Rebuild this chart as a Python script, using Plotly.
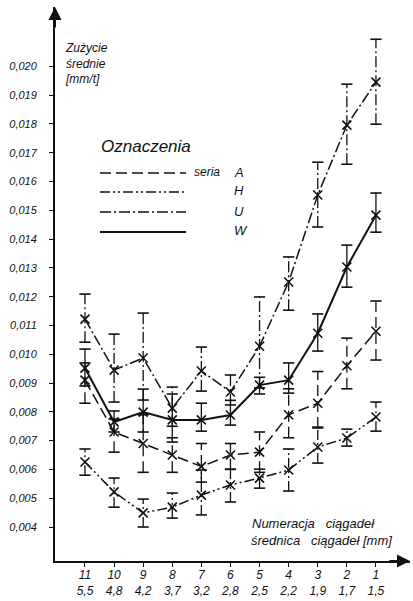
import plotly.graph_objects as go

# ---------------- data ----------------
die_no = ["11", "10", "9", "8", "7", "6", "5", "4", "3", "2", "1"]
diam = ["5,5", "4,8", "4,2", "3,7", "3,2", "2,8", "2,5", "2,2", "1,9", "1,7", "1,5"]

A_mean = [0.0091, 0.0073, 0.0069, 0.0065, 0.0061, 0.0065, 0.0066, 0.0079, 0.0083, 0.0096, 0.0108]
A_hi = [0.0097, 0.00775, 0.0079, 0.0071, 0.0069, 0.0069, 0.0073, 0.0088, 0.0094, 0.01056, 0.01185]
A_lo = [0.0083, 0.0066, 0.0059, 0.0059, 0.00556, 0.0060, 0.0059, 0.0071, 0.00744, 0.0088, 0.0098]

H_mean = [0.00626, 0.00522, 0.00449, 0.00469, 0.00511, 0.00546, 0.0057, 0.00598, 0.00678, 0.00709, 0.00782]
H_hi = [0.00671, 0.0057, 0.00497, 0.00518, 0.00598, 0.00601, 0.00601, 0.00671, 0.00747, 0.0074, 0.00834]
H_lo = [0.0058, 0.00469, 0.0040, 0.00431, 0.00442, 0.00487, 0.00535, 0.00525, 0.00622, 0.00681, 0.00733]

U_mean = [0.01122, 0.00945, 0.00987, 0.00813, 0.00942, 0.00869, 0.01028, 0.01251, 0.01553, 0.01796, 0.01945]
U_hi = [0.01209, 0.0107, 0.01143, 0.00886, 0.01025, 0.00928, 0.01199, 0.01338, 0.01667, 0.01938, 0.02094]
U_lo = [0.01042, 0.00834, 0.00841, 0.0075, 0.00872, 0.00824, 0.00883, 0.01153, 0.01442, 0.0166, 0.01799]

W_mean = [0.00952, 0.00765, 0.00799, 0.00772, 0.00772, 0.00789, 0.00893, 0.0091, 0.01073, 0.01303, 0.01483]
W_hi = [0.01018, 0.00803, 0.00879, 0.00862, 0.0083, 0.0084, 0.0092, 0.0097, 0.0114, 0.01379, 0.0156]
W_lo = [0.0089, 0.0073, 0.0073, 0.00695, 0.00733, 0.00754, 0.00862, 0.00865, 0.01011, 0.01233, 0.01424]

y_ticks = [0.004, 0.005, 0.006, 0.007, 0.008, 0.009, 0.010, 0.011, 0.012,
           0.013, 0.014, 0.015, 0.016, 0.017, 0.018, 0.019, 0.020]

series_names = ["A", "H", "U", "W"]

# ---------------- styles ----------------
FONT = "Liberation Sans"
BLACK = "#111111"
DASH = {
    "A": "11px,5px",
    "H": "10px,3px,2px,3px,2px,3px",
    "U": "11px,3px,2px,3px",
    "W": "solid",
}
WIDTH = {"A": 1.5, "H": 1.5, "U": 1.5, "W": 2.0}

W_PX, H_PX = 413, 601
L, R, T, B = 55, 3, 7, 40


def pxx(x):
    return (x - L) / (W_PX - L - R)


def pxy(y):
    return (H_PX - B - y) / (H_PX - T - B)


xs = list(range(len(die_no)))
fig = go.Figure()

data = {
    "A": (A_mean, A_hi, A_lo),
    "H": (H_mean, H_hi, H_lo),
    "U": (U_mean, U_hi, U_lo),
    "W": (W_mean, W_hi, W_lo),
}

for name in series_names:
    mean, hi, lo = data[name]
    # error bars (vertical segments in the series' line style)
    ex, ey = [], []
    for x, h, l in zip(xs, hi, lo):
        ex += [x, x, None]
        ey += [l, h, None]
    fig.add_trace(go.Scatter(x=ex, y=ey, mode="lines", showlegend=False,
                             line=dict(color=BLACK, width=1.3, dash=DASH[name]),
                             hoverinfo="skip"))
    # caps
    fig.add_trace(go.Scatter(x=xs + xs, y=hi + lo, mode="markers", showlegend=False,
                             marker=dict(symbol="line-ew", size=8,
                                         line=dict(color=BLACK, width=1.6)),
                             hoverinfo="skip"))
    # main line with x markers
    fig.add_trace(go.Scatter(x=xs, y=mean, mode="lines+markers", name=name,
                             showlegend=False,
                             line=dict(color=BLACK, width=WIDTH[name], dash=DASH[name]),
                             marker=dict(symbol="x-thin", size=9,
                                         line=dict(color=BLACK, width=1.6))))

ticktext = [f"{a}<br>{b}" for a, b in zip(die_no, diam)]

fig.update_layout(
    width=W_PX, height=H_PX,
    margin=dict(l=L, r=R, t=T, b=B, pad=0, autoexpand=False),
    paper_bgcolor="white", plot_bgcolor="white",
    separators=",.",
    font=dict(family=FONT, color=BLACK, size=12, style="italic"),
    xaxis=dict(range=[-1.03, 11.17], tickvals=xs, ticktext=ticktext,
               automargin=False,
               showgrid=False, zeroline=False, showline=True, linecolor=BLACK,
               linewidth=2, ticks="outside", ticklen=4, tickwidth=1.2,
               tickcolor=BLACK, tickfont=dict(size=12, family=FONT, style="italic"),
               ticklabelstandoff=-2),
    yaxis=dict(range=[0.00282, 0.02206], tickvals=y_ticks, tickformat=".3f",
               automargin=False,
               showgrid=False, zeroline=False, showline=True, linecolor=BLACK,
               linewidth=2, ticks="outside", ticklen=4, tickwidth=1.2,
               tickcolor=BLACK, tickfont=dict(size=11, family=FONT, style="italic"),
               ticklabelstandoff=10),
)

# axis arrows
fig.add_annotation(x=0, y=1, xref="paper", yref="paper", text="", showarrow=True,
                   ax=0, ay=22, arrowhead=2, arrowsize=1.3, arrowwidth=2,
                   arrowcolor=BLACK)
fig.add_annotation(x=1, y=0, xref="paper", yref="paper", text="", showarrow=True,
                   ax=-22, ay=0, arrowhead=2, arrowsize=1.3, arrowwidth=2,
                   arrowcolor=BLACK)

# texts
def text(x, y, s, size, xanchor="left", yanchor="middle"):
    fig.add_annotation(x=pxx(x), y=pxy(y), xref="paper", yref="paper", text=s,
                       showarrow=False, xanchor=xanchor, yanchor=yanchor, align="left",
                       font=dict(size=size, family=FONT, color=BLACK, style="italic"))

text(63, 39, "Zużycie<br>średnie<br>[mm/t]", 12, yanchor="top")
text(99, 146, "Oznaczenia", 17)
text(192, 172, "seria", 12)

legend_y = {"A": 173, "H": 192, "U": 212, "W": 232}
for name in series_names:
    yy = legend_y[name]
    fig.add_shape(type="line", xref="paper", yref="paper",
                  x0=pxx(100), x1=pxx(186), y0=pxy(yy), y1=pxy(yy),
                  line=dict(color=BLACK, width=WIDTH[name], dash=DASH[name]))
    text(232, yy - 1, name, 13)

text(250, 523, "Numeracja&nbsp;&nbsp;&nbsp;ciągadeł", 13)
text(249, 540, "średnica&nbsp;&nbsp;&nbsp;ciągadeł [mm]", 13)

fig.write_html(
    "out.html",
    config={"displayModeBar": False},
    post_script="document.body.style.margin='0';document.body.style.padding='0';"
                "document.documentElement.style.overflow='hidden';",
)
